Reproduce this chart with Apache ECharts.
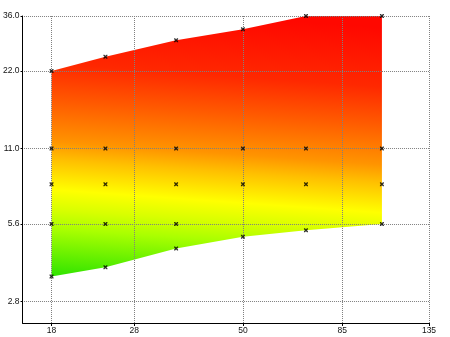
<!DOCTYPE html>
<html>
<head>
<meta charset="utf-8">
<script src="https://cdn.jsdelivr.net/npm/echarts@6/dist/echarts.min.js"></script>
<style>html,body{margin:0;padding:0;background:#fff}#c{width:450px;height:337px}</style>
</head>
<body>
<div id="c"></div>
<script>
// ---- data ----
const focalLengths = [18, 24, 35, 50, 70, 105];
const upperValues = [22, 25, 29, 32, 36, 36];
const lowerValues = [3.5, 3.8, 4.5, 5.0, 5.3, 5.6];
const middleValues = [[11, 8, 5.6], [11, 8, 5.6], [11, 8, 5.6], [11, 8], [11, 8], [11, 8]];
const xTickValues = [18, 28, 50, 85, 135];
const yTickValues = [2.8, 5.6, 11, 22, 36];
// colour ramp (value on the y scale -> colour)
const shadeValues = [3.02, 3.84, 4.85, 5.75, 6.87, 8.98, 10.56, 15.2, 21.2, 36];
const shadeColors = ['#22e000', '#66f000', '#aaff00', '#d8ff00', '#ffff00', '#ffc000', '#ff9400', '#ff5a00', '#ff2800', '#ff0800'];

const X_MIN = 15.42, X_MAX = 135, Y_MIN = 2.31, Y_MAX = 36;

const markerData = [];
focalLengths.forEach((f, i) => {
  markerData.push([f, upperValues[i]]);
  middleValues[i].forEach(v => markerData.push([f, v]));
  markerData.push([f, lowerValues[i]]);
});

function renderRange(params, api) {
  if (params.dataIndex !== 0) return;
  const n = focalLengths.length;
  const pts = [];
  for (let i = 0; i < n; i++) pts.push(api.coord([focalLengths[i], upperValues[i]]));
  for (let i = n - 1; i >= 0; i--) pts.push(api.coord([focalLengths[i], lowerValues[i]]));
  const xl = api.coord([focalLengths[0], Y_MAX])[0];
  const xr = api.coord([focalLengths[n - 1], Y_MAX])[0];
  const xm = (xl + xr) / 2;
  const yb = api.coord([focalLengths[0], yTickValues[0]])[1];
  const yt = api.coord([focalLengths[0], Y_MAX])[1];
  const s = 0.07;
  const k = (yb - yt) / (1 + s * s);
  const lo = Math.log(yTickValues[0]), hi = Math.log(Y_MAX);
  const stops = shadeValues.map((v, i) => ({ offset: (Math.log(v) - lo) / (hi - lo), color: shadeColors[i] }));
  return {
    type: 'polygon',
    shape: { points: pts },
    style: {
      fill: { type: 'linear', x: xm, y: yb, x2: xm + s * k, y2: yb - k, global: true, colorStops: stops },
      stroke: null
    }
  };
}

const xMarkPath = 'path://M0,0L1,0L2,1L3,0L4,0L4,1L3,2L4,3L4,4L3,4L2,3L1,4L0,4L0,3L1,2L0,1Z';
const labelFont = { fontSize: 8.5, color: '#111', fontFamily: 'Liberation Sans' };

const chart = echarts.init(document.getElementById('c'), null, { renderer: 'canvas' });
chart.setOption({
  animation: false,
  backgroundColor: '#fff',
  grid: { left: 22, right: 21, top: 16, bottom: 14 },
  xAxis: {
    type: 'log', logBase: 10, min: X_MIN, max: X_MAX, z: 3,
    axisLine: { show: true, onZero: false, lineStyle: { color: '#000', width: 1 } },
    axisTick: { show: true, customValues: xTickValues, length: 3, lineStyle: { color: '#000' } },
    axisLabel: Object.assign({ customValues: xTickValues, margin: 3, formatter: v => String(Math.round(v)) }, labelFont),
    splitLine: { show: true, lineStyle: { color: '#808080', type: [1, 1], width: 1 } },
    minorTick: { show: false }, minorSplitLine: { show: false }
  },
  yAxis: {
    type: 'log', logBase: 10, min: Y_MIN, max: Y_MAX, z: 3,
    axisLine: { show: true, onZero: false, lineStyle: { color: '#000', width: 1 } },
    axisTick: { show: true, customValues: yTickValues, length: 2, lineStyle: { color: '#000' } },
    axisLabel: Object.assign({ customValues: yTickValues, margin: 3, formatter: v => (Math.round(v * 10) / 10).toFixed(1) }, labelFont),
    splitLine: { show: true, lineStyle: { color: '#808080', type: [1, 1], dashOffset: 0.5, width: 1 } },
    minorTick: { show: false }, minorSplitLine: { show: false }
  },
  series: [
    {
      type: 'custom', name: 'range', coordinateSystem: 'cartesian2d', z: 2, silent: true,
      renderItem: renderRange,
      data: [[focalLengths[0], upperValues[0]]]
    },
    {
      type: 'scatter', name: 'stops', z: 5, silent: true,
      symbol: xMarkPath, symbolSize: 4,
      itemStyle: { color: '#000' },
      data: markerData
    }
  ]
});
</script>
</body>
</html>
